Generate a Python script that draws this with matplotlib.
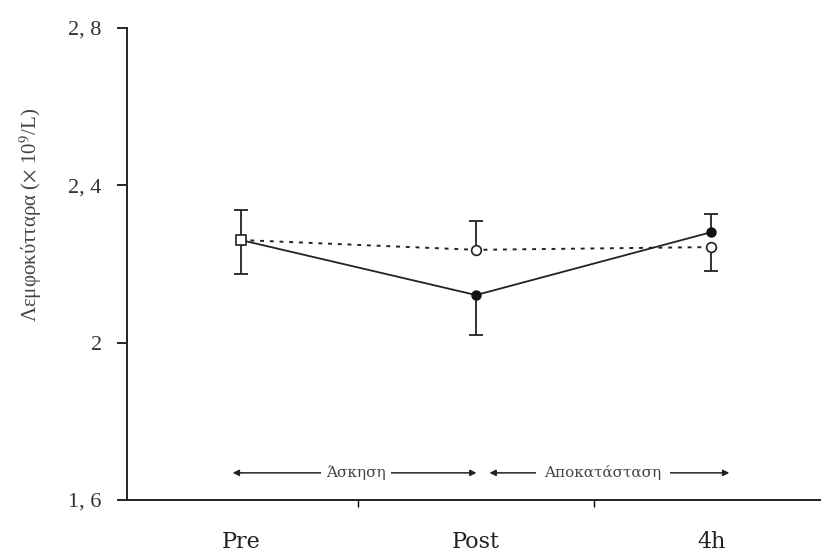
import numpy as np
import matplotlib
matplotlib.use("Agg")
import matplotlib.pyplot as plt

plt.rcParams['font.family'] = ['Liberation Serif', 'DejaVu Serif']
plt.rcParams['mathtext.fontset'] = 'stix'

# data
labels = ["Pre", "Post", "4h"]
exercise = [2.261, 2.121, 2.281]          # solid line, filled circles
exercise_lo = [0.086, 0.102, 0.0]
exercise_hi = [0.0, 0.0, 0.046]
control = [2.261, 2.236, 2.243]           # dotted line, open markers
control_lo = [0.0, 0.0, 0.061]
control_hi = [0.076, 0.073, 0.0]

x = np.arange(len(labels))

fig = plt.figure(figsize=(8.23, 5.56), dpi=100)
ax = fig.add_axes([0.154, 0.1007, 0.842, 0.849])

# one-sided error bars (vertical line + cap at the far end only)
for vals, lo, hi in [(exercise, exercise_lo, exercise_hi), (control, control_lo, control_hi)]:
    vals = np.array(vals)
    lo = np.array(lo)
    hi = np.array(hi)
    ax.vlines(x, vals - lo, vals + hi, color='#222222', linewidth=1.3, zorder=2)
    for xi, v, l, h in zip(x, vals, lo, hi):
        if l > 0:
            ax.plot(xi, v - l, marker='_', markersize=9.5, mew=1.3, color='#222222', zorder=2)
        if h > 0:
            ax.plot(xi, v + h, marker='_', markersize=9.5, mew=1.3, color='#222222', zorder=2)

# lines
ax.plot(x, exercise, color='#222222', linewidth=1.3, marker='o', markersize=6.5,
        markerfacecolor='#111111', markeredgecolor='#111111', zorder=3)
ax.plot(x, control, color='#222222', linewidth=1.4, linestyle=(0, (2, 3)), zorder=3)
ax.plot(x[1:], control[1:], linestyle='none', marker='o', markersize=7,
        markerfacecolor='white', markeredgecolor='#222222', markeredgewidth=1.2, zorder=4)
ax.plot(x[:1], control[:1], linestyle='none', marker='s', markersize=7,
        markerfacecolor='white', markeredgecolor='#222222', markeredgewidth=1.2, zorder=4)

# phase arrows
arrow_y = 1.669
ax.annotate("", xy=(-0.034, arrow_y), xytext=(1.002, arrow_y),
            arrowprops=dict(arrowstyle='<|-|>', color='#222222', lw=1.1,
                            mutation_scale=9, shrinkA=0, shrinkB=0))
ax.text(0.49, arrow_y, "Άσκηση", fontsize=11, family='DejaVu Serif',
        ha='center', va='center', color='#444444',
        bbox=dict(facecolor='white', edgecolor='none', pad=4))
ax.annotate("", xy=(1.057, arrow_y), xytext=(2.076, arrow_y),
            arrowprops=dict(arrowstyle='<|-|>', color='#222222', lw=1.1,
                            mutation_scale=9, shrinkA=0, shrinkB=0))
ax.text(1.54, arrow_y, "Αποκατάσταση", fontsize=11, family='DejaVu Serif',
        ha='center', va='center', color='#444444',
        bbox=dict(facecolor='white', edgecolor='none', pad=6))

# axes style
ax.set_xlim(-0.484, 2.46)
ax.set_ylim(1.6, 2.8)
ax.set_yticks([1.6, 2.0, 2.4, 2.8])
ax.set_yticklabels(["1, 6", "2", "2, 4", "2, 8"], fontsize=16, color='#333333')
ax.set_xticks([0.5, 1.5])
ax.set_xticklabels([])
ax.set_xticks(x, minor=True)
ax.set_xticklabels(labels, minor=True, fontsize=16, family='DejaVu Serif', color='#222222')
ax.tick_params(axis='x', which='minor', length=0, pad=22)
ax.tick_params(axis='x', which='major', length=5, width=1, direction='out')
ax.tick_params(axis='y', length=7, width=1.2, direction='out', pad=11)
for s in ['top', 'right']:
    ax.spines[s].set_visible(False)
for s in ['left', 'bottom']:
    ax.spines[s].set_linewidth(1.4)
    ax.spines[s].set_color('#222222')

ax.set_ylabel(r"Λεμφοκύτταρα ($\times$ 10$^9$/L)", fontsize=15, color='#444444')
ax.yaxis.set_label_coords(-0.12, 0.604)

fig.savefig("out.png", dpi=100)
